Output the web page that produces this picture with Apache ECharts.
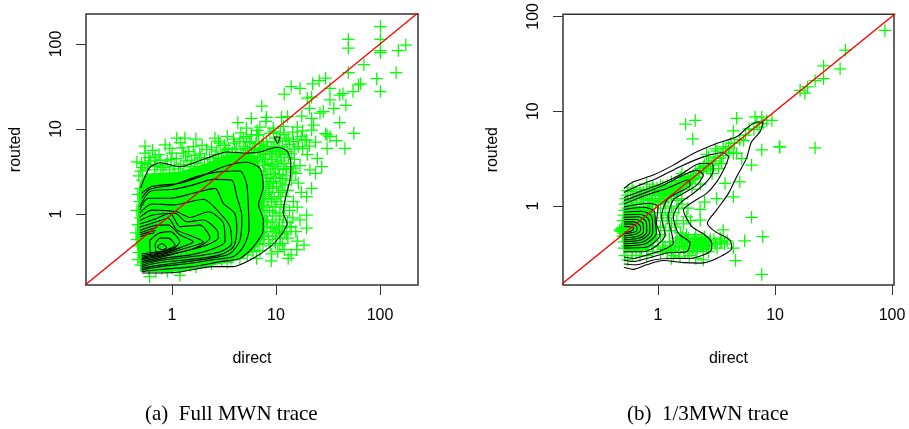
<!DOCTYPE html>
<html>
<head>
<meta charset="utf-8">
<style>html,body{margin:0;padding:0;background:#fff}#chart{width:909px;height:429px}</style>
<script src="https://cdn.jsdelivr.net/npm/echarts@6/dist/echarts.min.js"></script>
</head>
<body>
<div id="chart"></div>
<script>
var tickValues = [1, 10, 100];

// transfers that overlap into solid green
var denseLeft = [[.485,2.3],[.57,3.0],[1.19,3.15],[2.15,3.95],[3.36,5.0],[5.2,5.2],[6.5,4.8],[7.2,3.3],[7.8,1.92],[7.6,.93],[7.8,.54],[6.05,.36],[3.89,.275],[1.19,.21],[.51,.21],[.46,.41],[.46,.78]];
var denseRight = [[.51,.98],[.91,1.02],[.97,.66],[1.0,.44],[.8,.34],[.51,.32]];

var pointsLeft = [
[101,160],[101,113],[101,83.5],[101,79],[49.6,113],[49.6,89],[177,97],[150,83.5],[70,57],[49.6,46],[143,46],[93,39],[101,27.5],[65,34],[62,33],[55,27.5],[47,19],[44,26],[41,25],[30,39.5],[26,37],[22.5,34],[17,30],[14,31.5],[12,25.6],[20,23],[22,23.6],[33,30],[33,22],[36,17.5],[21,17.5],[17.7,14.2],[28.5,16],[26.5,15.3],[41,11.9],[22,13.3],[23,11.1],[22,9.7],[31,8.5],[33,8.1],[38,7.3],[56,8.9],[46,5.9],[31,5.9],[27.5,3.6],[7.3,18.6],[12.9,14],[11.3,13.7],[8.1,13.7],[5.8,13.3],[4.3,11.9],[9.4,10.2],[5.2,10.2],[6.8,8.5],[4.85,7.8],[11.8,10.7],[13.1,7.8],[19,7.4],[16.4,6.2],[10.1,7.8],[8.75,8.9],[9.4,5.9],[5.6,7.1],[7.55,7.1],
[.55,6.3],[.86,6.5],[1.11,7.8],[1.33,7.8],[.77,4.3],[1.0,5.2],[1.29,5.2],[1.66,4.9],[2.15,5.7],[2.59,7.8],[2.9,6.8],[3.5,5.9],[4.5,7.1],[5.2,8.1],[6.5,8.5],[8.1,7.1],[10.9,7.4],[14.7,7.1],[19.7,7.4],[21.2,3.3],[16.4,2.3],[19.7,1.6],[14.7,1.4],[19.7,.97],[17,.85],[19.7,.68],[15.8,.38],[18.6,.43],[13.1,.30],[10.9,.43],[9.1,.34],[6.5,.30],[1.19,.19],[.61,.183],[10.9,1.02],[13.6,.71],[10.1,.65],[8.1,.85],[9.1,1.4],[8.4,2.1],[14.7,3.45],[.46,4.1],[.51,3.95],[.69,4.7],
[.5,3.2],[.48,2.8],[.52,2.5],[.5,2.0],[.47,1.7],[.49,1.4],[.46,1.1],[.5,.9],[.47,.75],[.45,.6],[.46,.5],[.47,.42],[.48,.35],[.47,.29],[.5,.25],[.53,.27],
[.55,5.2],[.6,3.8],[.6,4.6],[.65,5.6],[.72,3.7],[.75,5.0],[.82,3.5],[.9,4.2],[.95,5.9],[1.05,3.6],[1.1,4.5],[1.2,3.8],[1.25,6.0],[1.4,4.2],[1.45,5.4],[1.5,3.6],[1.6,6.2],[1.75,4.0],[1.85,5.1],[1.95,6.4],[2.05,4.4],[2.3,4.6],[2.4,6.1],[2.6,5.0],[2.8,4.5],[3.1,5.2],[3.2,6.4],[3.4,4.8],[3.8,5.3],[4.0,6.8],[4.2,5.8],[4.6,5.1],[4.9,6.3],[5.3,5.6],[5.6,6.9],[6.0,6.0],[6.4,6.7],[6.9,5.8],[7.3,6.5],[7.7,5.8],[8.3,6.2],[9.0,6.0],[9.6,7.0],[10.5,6.2],[11.5,6.1],[12.5,7.2],[13.5,6.6],[15,5.8],[16,7.6],[17.5,8.2],[18,5.9],[21,6.3],[24,7.0],[12,8.6],[14.5,9.2],[16,10.5],[9.5,9.4],[7,10.5],[8,12.3],[11,9.0],[18,9.5],[3.4,8.2],[2.8,7.2],[1.7,7.6],[4.6,9.0],[5.8,8.6],[6.6,9.6],[3.9,7.6],[1.2,6.9],
[8,5],[9,4.4],[10,4.7],[11,5],[12,3.9],[10.5,3.4],[9.4,3.0],[8.2,2.6],[7.8,3.7],[8.6,1.8],[9.5,2.4],[11,2.3],[12.5,2.8],[13,1.9],[14,2.5],[15.5,3.0],[17,3.7],[15,4.4],[17.5,1.8],[16,1.2],[13.5,1.1],[11,1.6],[9.8,1.2],[8.2,1.2],[7.8,.95],[9.2,.8],[10,.55],[12,.62],[14.5,.9],[15.5,.62],[16,.48],[13,.52],[11,.52],[8.5,.5],[8.8,.42],[7.5,.45],[7,.37],[6,.36],[5.3,.33],[4.5,.3],[3.4,.27],[2.4,.26],[1.7,.24],[1.2,.22],[.9,.21],[.7,.21],[12,.38],[14,.33],[10.4,.36],[7.8,.7],[24,3],[25,4.5],[22,2],[20,5],[30,8.8],[9,.28],
[6.2,4.8],[6.6,4.2],[7,4.6],[7.4,4.1],[7.9,4.4],[8.4,3.9],[8.8,3.4],[9.2,3.8],[9.8,3.6],[10.3,4.1],[11.2,4.3],[11.7,3.3],[12.6,3.4],[13.2,4.6],[13.8,3.6],[14.3,3.1],[6.3,3.4],[6.8,3.1],[7.2,2.8],[7.6,3.2],[8,2.9],[8.9,2.7],[9.9,2.7],[10.8,2.9],[11.5,2.6],[12.2,2.2],[6.5,2.3],[7,2.1],[7.5,2.4],[8.1,2.2],[8.7,2.3],[9.3,2.0],[10.1,2.1],[10.6,1.8],[11.6,1.9],[12.4,1.6],[6.9,1.7],[7.3,1.5],[7.9,1.7],[8.4,1.5],[9,1.6],[9.6,1.5],[10.2,1.4],[11.2,1.3],[12.1,1.2],[6.7,1.25],[7.2,1.1],[7.7,1.25],[8.7,1.1],[9.3,1.05],[10,.95],[10.8,.85],[11.8,.95],[12.9,.8],[14,.7],[6.8,.9],[7.4,.85],[8.3,.8],[8.8,.7],[9.6,.68],[10.6,.68],[11.5,.72],[12.6,.58],[6.7,.62],[7.2,.6],[7.7,.55],[8.2,.62],[9.2,.55],[9.9,.45],[10.8,.6],[11.6,.45],[6.3,.5],[6.7,.44],[5.8,.42],[5.4,.39],[4.9,.36],[4.2,.33],[3.7,.3],[3,.29],[2.1,.27],[1.5,.25],[1,.23],[.8,.23],[.6,.225],
[.52,3.5],[.55,4.0],[.58,3.3],[.62,4.2],[.68,3.6],[.7,4.3],[.78,3.3],[.86,3.8],[.95,3.3],[.98,4.4],[1.15,3.4],[1.3,3.6],[1.35,4.8],[1.55,4.3],[1.65,3.9],[1.9,4.6],[2.2,3.8],[2.5,4.1],[2.7,5.5],[3.0,4.3],[3.3,5.7],[3.7,4.6],[4.1,5.2],[4.4,4.6],[4.8,4.3],[5.1,5.9],[5.5,4.9],[5.8,5.3],[6.2,5.6],[6.7,5.2],[7.1,5.5],[7.6,5.1],[8.7,5.1],[9.3,5.4],[10,5.6],[10.8,5.4],[12,5.2],[12.8,5.4],[14,5.1]
];

var pointsRight = [
[87,71],[40,44],[36,28],[26,22],[26,30],[22,21],[16.4,16.6],[18,15.5],[19,18],[22,4.1],[11,4.2],
[1.72,7.3],[2.08,8.0],[1.98,5.1],[4.7,8.4],[4.4,6.2],[7.7,3.9],[10.9,4.2],[7.7,8.7],[9.4,8.0],[6.75,8.7],[7.9,7.4],[6.3,2.7],[5.2,3.18],[4.4,3.58],[3.6,4.2],[4.1,3.7],[4.7,3.58],[3.74,1.73],[5.0,1.8],[4.4,1.25],[3.17,1.2],[2.29,.92],[2.29,.71],[1.76,.77],[3.6,.56],[6.3,.76],[7.85,.475],[5.5,.43],[7.7,.19],[4.6,.266],[4.4,.36],[3.39,.405],[2.6,.405],[2.44,.27],[1.54,.29],
[8.5,8],[7,7.5],[6,6.5],[5,5],[4.5,4.6],[3.8,4.0],[3.2,3.8],[3.4,3.2],[3,3],[2.7,3.3],[2.5,2.7],[2.3,2.5],[2.1,2.3],[1.9,2.0],[1.8,1.9],[1.7,1.8],[1.6,1.75],[1.5,1.6],[1.4,1.55],[1.35,1.45],[1.25,1.4],[1.2,1.3],[1.15,1.25],[1.1,1.2],[2.0,1.95],[1.85,1.75],[1.55,1.5],[1.45,1.42],[1.3,1.28],
[2.6,3.5],[3.1,4.0],[3.5,2.8],[2.8,2.4],[2.9,2.2],[3.3,2.5],[1.6,2.2],[1.3,1.8],[1.05,1.65],[.9,1.6],[.8,1.7],[.7,1.5],[.6,1.55],[.55,1.3],[.53,1.2],[.65,1.3],[.75,1.4],[.85,1.45],[.95,1.35],[1.05,1.4],[1.2,1.65],[1.0,1.2],[.9,1.15],[1.15,1.5],[.75,1.2],[.6,1.15],[.52,1.05],[.52,.9],[1.45,1.15],[1.6,1.2],[1.95,1.5],[2.3,1.7],
[.49,.56],[.47,.56],[.48,.54],[.49,.58],[.5,.6],[.5,.52],[.5,.48],[.5,.7],[.51,.8],[.51,.42],[.51,.36],[.52,.3],[.55,.27],[.6,.3],[.7,.3],[.8,.3],[.65,.34],[.9,.33],[1.0,.38],[1.1,.42],[1.05,.5],[1.05,.6],[1.1,.7],[1.05,.85],[1.15,.95],[1.25,.8],[1.3,.65],[1.4,.6],
[1.15,.36],[1.25,.42],[1.3,.34],[1.4,.38],[1.45,.46],[1.5,.33],[1.6,.4],[1.65,.36],[1.7,.44],[1.75,.5],[1.8,.33],[1.85,.38],[1.9,.42],[2.0,.36],[2.05,.45],[2.1,.5],[2.2,.41],[2.3,.37],[2.35,.44],[2.45,.35],[2.5,.47],[2.6,.36],[2.75,.42],[2.85,.38],[3.0,.44],[3.2,.36],[3.4,.46],[3.7,.4],[3.9,.43],[1.85,.3],[2.1,.28],[1.35,.3],[2.15,.33],[1.55,.52],[1.95,.34],
[1.05,1.12],[1.0,1.05],[1.12,1.1],[1.22,1.2],[1.3,1.35],[1.38,1.32],[1.42,1.47],[1.5,1.45],[1.55,1.62],[1.62,1.58],[1.65,1.7],[1.75,1.72],[1.78,1.85],[1.88,1.85],[1.95,1.9],[2.0,2.1],[2.1,2.0],[2.2,2.2],[2.25,2.35],[2.4,2.3],[2.45,2.6],[2.6,2.5],[2.7,2.9],[2.9,2.7],[3.1,3.2],[3.6,3.4],[4.0,4.2],[4.2,4.6],[5.4,4.9],[5.6,5.6],[6.6,6.4],[7.3,6.8],
[.55,1.45],[.58,1.2],[.62,1.42],[.66,1.2],[.7,1.35],[.72,1.25],[.78,1.3],[.8,1.5],[.82,1.2],[.88,1.3],[.92,1.5],[.98,1.55],[1.02,1.3],[1.08,1.45],[1.12,1.35],[1.18,1.45],[1.25,1.55],[1.32,1.6],[1.4,1.7],[1.5,1.85],[1.55,2.0],[1.7,2.05],[1.1,1.6],[.85,1.15],[.95,1.1],[.7,1.1],[.55,1.1],[.6,1.0],[.65,1.05],[.75,1.05],[.82,1.05],
[.55,.95],[.6,.9],[.65,.85],[.7,.95],[.8,.92],[.85,.85],[.55,.75],[.62,.72],[.7,.7],[.78,.75],[.9,.75],[.95,.6],[.85,.55],[.75,.6],[.65,.6],[.55,.6],[.55,.45],[.65,.48],[.75,.45],[.85,.42],[.95,.5],[.55,.38],[.6,.33],[.72,.35],[.82,.35],[.9,.37],
[1.2,.33],[1.28,.38],[1.35,.36],[1.42,.42],[1.52,.37],[1.58,.44],[1.62,.48],[1.72,.38],[1.78,.42],[1.82,.46],[1.92,.38],[1.98,.42],[2.05,.38],[2.12,.42],[2.18,.36],[2.25,.44],[2.32,.4],[2.4,.38],[2.42,.46],[2.55,.4],[2.68,.38],[2.8,.45],[1.1,.35],[1.05,.32],[1.7,.33],[1.4,.33],[1.3,.28],[2.7,.33],[3.1,.4],[3.5,.42],
[1.2,.75],[1.35,.85],[1.5,.95],[1.3,1.0],[1.45,.7],[1.65,.65],[1.8,.95],[1.9,.7],[2.5,1.1],[1.15,.55],[1.25,.55],[1.6,1.05]
];

// density contours, opened where the estimate stops at the smallest observed value
var contoursLeft = [
[[.5,2.02],[.61,3.5],[.77,4.0],[1.19,3.6],[2.17,4.56],[3.38,5.36],[5.26,5.2],[7.0,5.36],[10.2,6.1],[12.8,5.5],[13.9,4.0],[13.6,2.5],[12.2,1.46],[11.7,1.03],[12.8,.78],[10.9,.54],[8.75,.41],[6.0,.30],[3.86,.24],[2.48,.24],[1.19,.208],[.77,.202],[.515,.202]],
[[9.6,8.05],[10.9,8.05],[10.4,6.8],[9.6,8.05]],
[[.51,1.75],[.64,2.1],[1.19,2.3],[1.86,2.75],[3.12,3.6],[5.2,4.05],[7.0,3.45],[7.55,2.1],[6.8,1.28],[7.55,.85],[7.55,.65],[6.05,.41],[4.5,.30],[2.9,.275],[1.6,.24],[.83,.224],[.51,.21]],
[[.51,1.53],[.61,1.95],[1.03,2.2],[1.73,2.75],[2.9,3.15],[4.5,3.2],[5.2,2.3],[5.4,1.33],[5.5,.65],[4.85,.41],[3.89,.315],[2.5,.29],[1.49,.263],[.77,.24],[.51,.22]],
[[.49,1.22],[.61,1.83],[1.03,1.95],[1.6,2.2],[2.5,2.55],[3.75,2.5],[4.2,1.6],[4.7,.93],[4.5,.49],[3.6,.34],[2.32,.30],[1.38,.275],[.77,.25],[.51,.23]],
[[.49,1.11],[.59,1.53],[.96,1.53],[1.6,1.75],[2.59,2.0],[3.12,1.33],[4.0,1.02],[4.2,.65],[3.89,.41],[2.9,.33],[1.86,.30],[.77,.268],[.51,.24]],
[[.49,1.02],[.64,1.31],[1.03,1.28],[2.0,1.49],[3.0,.97],[3.6,.71],[3.75,.45],[2.9,.36],[1.73,.32],[.77,.283],[.51,.25]],
[[.49,.91],[.64,1.11],[1.11,1.06],[1.49,.91],[2.24,1.06],[3.12,.78],[3.23,.47],[2.5,.39],[1.6,.335],[.83,.30],[.51,.263]],
[[.49,.84],[.66,.97],[1.07,1.02],[1.38,.81],[2.0,.85],[2.69,.65],[2.79,.52],[2.15,.43],[1.38,.37],[.83,.315],[.51,.275]],
[[.49,.76],[.69,.87],[.96,1.02],[1.19,.71],[1.86,.74],[2.32,.52],[1.6,.39],[.89,.33],[.51,.29]],
[[.49,.70],[.71,.81],[.92,.89],[1.11,.65],[1.6,.54],[2.0,.47],[1.29,.39],[.83,.335],[.51,.30]],
[[.49,.64],[.74,.74],[.92,.74],[1.19,.57],[1.6,.47],[1.03,.38],[.77,.34],[.51,.31]],
[[.61,.49],[.74,.59],[.96,.62],[1.19,.47],[1.03,.39],[.80,.36],[.64,.315],[.61,.49]],
[[.69,.45],[.77,.52],[.92,.52],[1.07,.43],[.89,.38],[.71,.36],[.69,.45]],
[[.72,.41],[.80,.45],[.89,.40],[.80,.38],[.72,.41]],
[[.49,.60],[.62,.66],[.72,.70]],
[[.49,.57],[.62,.62],[.70,.64]],
[[.49,.54],[.60,.58],[.68,.60]],
[[.51,.325],[.62,.335],[.9,.355],[1.2,.40]],
[[.51,.34],[.62,.35],[.85,.365],[1.05,.41]]
];

var contoursRight = [
[[.51,1.53],[.615,1.80],[.91,2.12],[1.35,2.7],[2.0,3.58],[3.17,4.57],[4.7,5.37],[5.7,6.6],[7.0,7.7],[7.9,7.7],[7.45,6.06],[6.3,4.75],[5.7,3.18],[4.7,2.04],[4.0,1.36],[3.17,.91],[2.64,.66],[3.07,.54],[4.1,.44],[4.27,.36],[3.17,.28],[2.29,.25],[1.65,.253],[1.11,.266],[.80,.24],[.615,.215],[.51,.226]],
[[.51,1.39],[.66,1.62],[.97,1.95],[1.54,2.6],[2.44,3.3],[3.6,3.64],[4.0,3.3],[3.74,2.6],[3.17,1.8],[2.6,1.36],[2.0,1.11],[1.65,.91],[1.94,.61],[2.52,.495],[2.88,.405],[2.78,.33],[1.88,.28],[1.27,.28],[.91,.27],[.66,.24],[.51,.245]],
[[.51,1.23],[.70,1.42],[1.04,1.7],[1.54,2.12],[2.29,2.81],[2.88,2.81],[2.97,2.39],[2.6,1.8],[2.0,1.36],[1.54,1.07],[1.35,.77],[1.49,.515],[1.88,.405],[1.76,.33],[1.19,.32],[.80,.28],[.615,.26],[.51,.27]],
[[.51,1.14],[.75,1.36],[1.11,1.66],[1.65,2.12],[2.14,2.39],[2.44,2.12],[2.14,1.66],[1.65,1.36],[1.35,1.16],[1.22,.77],[1.31,.515],[1.35,.405],[1.07,.34],[.80,.305],[.615,.28],[.51,.29]],
[[.51,1.05],[.80,1.31],[1.19,1.53],[1.82,1.88],[1.88,1.66],[1.44,1.36],[1.19,1.16],[1.07,.77],[1.15,.495],[.94,.37],[.75,.33],[.51,.33]],
[[.51,.98],[.83,1.07],[1.0,.98],[.97,.66],[1.04,.495],[.80,.37],[.51,.36]],
[[.51,.92],[.75,.97],[.93,.88],[.95,.64],[.97,.52],[.78,.40],[.51,.38]],
[[.51,.86],[.72,.88],[.87,.80],[.90,.62],[.90,.52],[.75,.42],[.51,.40]],
[[.51,.81],[.70,.82],[.82,.74],[.85,.61],[.85,.53],[.72,.44],[.51,.42]],
[[.51,.76],[.68,.77],[.78,.70],[.80,.60],[.80,.53],[.70,.46],[.51,.44]],
[[.51,.72],[.65,.72],[.74,.66],[.75,.58],[.75,.53],[.67,.48],[.51,.46]],
[[.51,.68],[.62,.68],[.70,.62],[.71,.57],[.69,.53],[.63,.50],[.51,.485]],
[[.51,.645],[.60,.645],[.66,.60],[.66,.56],[.62,.53],[.51,.51]],
[[.51,.61],[.58,.60],[.62,.575],[.58,.54],[.51,.53]]
];

var diagonalLeft = [[.1,.1],[300,300]];
var diagonalRight = [[.1,.1],[120,120]];

var plusMark = 'path://M0 10.8H10.8V0H13.2V10.8H24V13.2H13.2V24H10.8V13.2H0Z';
var labelFont = {color:'#000', fontFamily:'Liberation Sans', fontSize:16};
var captionFont = {color:'#000', fontFamily:'Liberation Serif', fontSize:21, fontWeight:'normal'};

function axis(type, min, max, name, gap) {
	var isY = type == 'y';
	return {
		type:'log', logBase:10, min:min, max:max, name:name,
		nameLocation:'middle', nameGap:gap, nameTextStyle:labelFont,
		splitLine:{show:false}, minorTick:{show:false},
		axisLine:{show:false},
		axisTick:{show:true, length:10, customValues:tickValues, lineStyle:{color:'#333', width:1}},
		axisLabel:Object.assign({show:true, margin:isY ? 21 : 23, rotate:isY ? 90 : 0, customValues:tickValues, formatter:'{value}'}, labelFont)
	};
}

function panelSeries(index, dense, points, contours, diagonal) {
	var list = [{
		type:'custom', xAxisIndex:index, yAxisIndex:index, z:1, silent:true, data:dense,
		renderItem:function (params, api) {
			if (params.dataIndex !== 0) return null;
			return {type:'polygon', shape:{points:dense.map(function (d) { return api.coord(d); })}, style:{fill:'#00ff00'}};
		}
	}, {
		type:'scatter', xAxisIndex:index, yAxisIndex:index, z:2, silent:true, data:points,
		symbol:plusMark, symbolSize:12.5, itemStyle:{color:'#00ff00', opacity:1}, large:false
	}];
	contours.forEach(function (c) {
		list.push({
			type:'line', xAxisIndex:index, yAxisIndex:index, z:3, silent:true, data:c,
			showSymbol:false, smooth:0.25, lineStyle:{color:'#000', width:1.1}
		});
	});
	list.push({
		type:'line', xAxisIndex:index, yAxisIndex:index, z:4, silent:true, data:diagonal,
		showSymbol:false, lineStyle:{color:'#ff0000', width:1.3}
	});
	return list;
}

var chart = echarts.init(document.getElementById('chart'), null, {renderer:'canvas'});
chart.setOption({
	animation:false,
	backgroundColor:'#fff',
	title:[
		{text:'(a)  Full MWN trace', left:145, top:404, textStyle:captionFont, padding:0},
		{text:'(b)  1/3MWN trace', left:627, top:404, textStyle:captionFont, padding:0}
	],
	grid:[
		{left:86, top:14, width:332, height:271, show:true, borderColor:'#333', borderWidth:1.5, backgroundColor:'#fff'},
		{left:563, top:14, width:331, height:271, show:true, borderColor:'#333', borderWidth:1.5, backgroundColor:'#fff'}
	],
	xAxis:[
		Object.assign(axis('x', .149, 232, 'direct', 66), {gridIndex:0}),
		Object.assign(axis('x', .154, 104, 'direct', 66), {gridIndex:1})
	],
	yAxis:[
		Object.assign(axis('y', .146, 225, 'routed', 62), {gridIndex:0}),
		Object.assign(axis('y', .147, 105, 'routed', 62), {gridIndex:1})
	],
	series:panelSeries(0, denseLeft, pointsLeft, contoursLeft, diagonalLeft)
		.concat(panelSeries(1, denseRight, pointsRight, contoursRight, diagonalRight))
});
</script>
</body>
</html>
